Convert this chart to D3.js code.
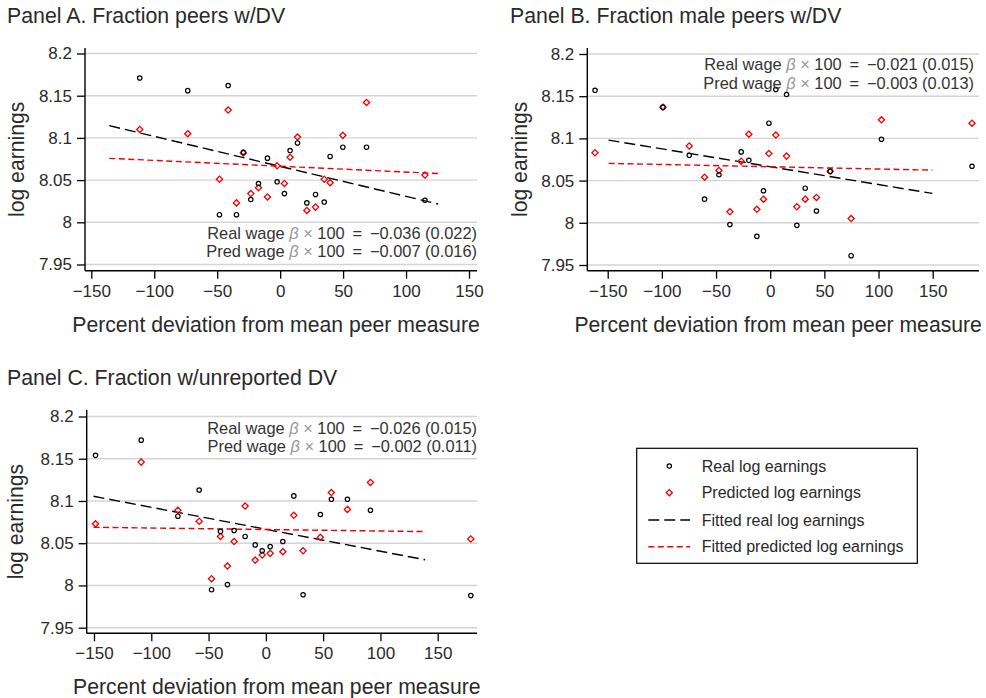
<!DOCTYPE html>
<html>
<head>
<meta charset="utf-8">
<script src="https://cdn.jsdelivr.net/npm/d3@7"></script>
<style>
  html, body { margin: 0; padding: 0; background: #fff; }
  svg { display: block; font-family: "Liberation Sans", Arial, Helvetica, sans-serif; }
</style>
</head>
<body>
<svg id="chart" width="986" height="698"></svg>
<script>
// ---------------- DATA ----------------
const xTicks = [-150, -100, -50, 0, 50, 100, 150];
const yTicks = [7.95, 8, 8.05, 8.1, 8.15, 8.2];

// Panel A. Fraction peers w/DV
const xA    = [-111.5, -73.4, -41.3, -29.2, -10.1, 7.9, 13.8, 39.7, 49.8, 68.6, -17.2, -2.4, 3.4, -23.3, -48.2, -34.7, 21.2, 28.1, 35, 115];
const realA = [8.171, 8.156, 8.162, 8.083, 8.076, 8.085, 8.094, 8.078, 8.089, 8.089, 8.046, 8.048, 8.034, 8.027, 8.009, 8.009, 8.023, 8.033, 8.024, 8.026];
const predA = [8.110, 8.105, 8.133, 8.082, 8.030, 8.077, 8.101, 8.047, 8.103, 8.142, 8.041, 8.067, 8.046, 8.034, 8.051, 8.023, 8.014, 8.018, 8.051, 8.056];
const fitRealXA = [-135.7, 125.4], fitRealA = [8.1145, 8.0217];
const fitPredXA = [-135.7, 128],   fitPredA = [8.0758, 8.0576];
const noteA = ["\u22120.036 (0.022)", "\u22120.007 (0.016)"];

// Panel B. Fraction male peers w/DV
const xB    = [-161.7, -99, -74.7, -47.3, -60.6, -26.8, -19.7, -1.2, 5.2, 15.1, -6.2, -37.2, -12.3, 24.6, 32.3, 42.7, 55.4, 74.7, 102.7, 186.3];
const realB = [8.157, 8.137, 8.080, 8.057, 8.028, 8.084, 8.074, 8.118, 8.158, 8.152, 8.038, 7.998, 7.984, 7.997, 8.041, 8.014, 8.061, 7.961, 8.099, 8.067];
const predB = [8.083, 8.137, 8.091, 8.062, 8.054, 8.073, 8.105, 8.082, 8.104, 8.079, 8.028, 8.013, 8.016, 8.019, 8.028, 8.030, 8.061, 8.005, 8.122, 8.118];
const fitRealXB = [-149.2, 149.7], fitRealB = [8.098, 8.0348];
const fitPredXB = [-149.2, 149.7], fitPredB = [8.0704, 8.0624];
const noteB = ["\u22120.021 (0.015)", "\u22120.003 (0.013)"];

// Panel C. Fraction w/unreported DV
const xC    = [-148.7, -108.8, -58.2, -76.8, -39.6, -27.7, -18.1, -9.3, -3.2, 3.8, 14.8, 24.4, 47.6, 57.2, 71.2, 91.3, -47.4, -33.5, 32.5, 178.9];
const realC = [8.154, 8.172, 8.113, 8.082, 8.064, 8.065, 8.058, 8.048, 8.041, 8.046, 8.052, 8.106, 8.084, 8.102, 8.102, 8.089, 7.995, 8.001, 7.989, 7.988];
const predC = [8.073, 8.146, 8.076, 8.089, 8.058, 8.052, 8.094, 8.030, 8.036, 8.038, 8.040, 8.083, 8.057, 8.110, 8.090, 8.122, 8.008, 8.023, 8.041, 8.055];
const fitRealXC = [-150.4, 139], fitRealC = [8.1056, 8.0304];
const fitPredXC = [-150.4, 137.5], fitPredC = [8.0689, 8.0638];
const noteC = ["\u22120.026 (0.015)", "\u22120.002 (0.011)"];

const titles = ["Panel A. Fraction peers w/DV", "Panel B. Fraction male peers w/DV", "Panel C. Fraction w/unreported DV"];
const xTitle = "Percent deviation from mean peer measure";
const yTitle = "log earnings";
const legendLabels = ["Real log earnings", "Predicted log earnings", "Fitted real log earnings", "Fitted predicted log earnings"];

// ---------------- LAYOUT ----------------
const panels = [
  { title: titles[0], x: xA, real: realA, pred: predA, frx: fitRealXA, fr: fitRealA, fpx: fitPredXA, fp: fitPredA, note: noteA,
    L: 85, R: 477, T: 48, B: 270.7, xr: [91.3, 469], yr: [264.5, 53.5], tx: 7, ty: 23, ytx: 24, noteR: 477, noteY: [239, 257] },
  { title: titles[1], x: xB, real: realB, pred: predB, frx: fitRealXB, fr: fitRealB, fpx: fitPredXB, fp: fitPredB, note: noteB,
    L: 587.3, R: 979, T: 48, B: 270.7, xr: [607.7, 932.7], yr: [265, 54], tx: 510, ty: 23, ytx: 527, noteR: 974, noteY: [70, 88.5] },
  { title: titles[2], x: xC, real: realC, pred: predC, frx: fitRealXC, fr: fitRealC, fpx: fitPredXC, fp: fitPredC, note: noteC,
    L: 86.7, R: 477, T: 410, B: 633.3, xr: [94, 437.7], yr: [627.7, 416.5], tx: 7, ty: 385, ytx: 23, noteR: 477, noteY: [433.5, 452] }
];

const RED = "#f00000";
const TXT = "#2a2a2a";
const svg = d3.select("#chart");

// square diamond marker (equal width/height)
const diamond = "M0,-3.1L3.1,0L0,3.1L-3.1,0Z";

panels.forEach(p => {
  const g = svg.append("g");
  const x = d3.scaleLinear().domain([-150, 150]).range(p.xr);
  const y = d3.scaleLinear().domain([7.95, 8.2]).range(p.yr);

  // title
  g.append("text").attr("x", p.tx).attr("y", p.ty).attr("fill", TXT)
    .attr("font-size", 21.3).text(p.title);

  // gridlines
  g.append("g").selectAll("line").data(yTicks).join("line")
    .attr("x1", p.L).attr("x2", p.R)
    .attr("y1", d => y(d)).attr("y2", d => y(d))
    .attr("stroke", "#d4d4d4").attr("stroke-width", 1.4);

  // y axis
  const ya = g.append("g").attr("transform", `translate(${p.L},0)`)
    .call(d3.axisLeft(y).tickValues(yTicks).tickSize(8).tickPadding(5)
      .tickFormat(d => String(+d.toFixed(2))));
  ya.select(".domain").remove();
  ya.selectAll(".tick line").attr("stroke", "#000").attr("stroke-width", 1.3);
  ya.selectAll(".tick text").attr("font-size", 17).attr("fill", TXT)
    .attr("font-family", "'Liberation Sans', Arial, sans-serif");

  // x axis
  const xa = g.append("g").attr("transform", `translate(0,${p.B})`)
    .call(d3.axisBottom(x).tickValues(xTicks).tickSize(8).tickPadding(6).tickFormat(d3.format("d")));
  xa.select(".domain").remove();
  xa.selectAll(".tick line").attr("stroke", "#000").attr("stroke-width", 1.3);
  xa.selectAll(".tick text").attr("font-size", 17).attr("fill", TXT)
    .attr("font-family", "'Liberation Sans', Arial, sans-serif");

  // axis lines
  g.append("line").attr("x1", p.L).attr("x2", p.L).attr("y1", p.T).attr("y2", p.B)
    .attr("stroke", "#000").attr("stroke-width", 1.4);
  g.append("line").attr("x1", p.L).attr("x2", p.R).attr("y1", p.B).attr("y2", p.B)
    .attr("stroke", "#000").attr("stroke-width", 1.4);

  // axis titles
  g.append("text").attr("x", (p.L + p.R) / 2 - 5).attr("y", p.B + 61)
    .attr("text-anchor", "middle").attr("font-size", 21.2).attr("fill", TXT).text(xTitle);
  g.append("text").attr("transform", `translate(${p.ytx},${(p.T + p.B) / 2}) rotate(-90)`)
    .attr("text-anchor", "middle").attr("font-size", 21.2).attr("fill", TXT).text(yTitle);

  // fitted lines
  const line = d3.line().x(d => x(d[0])).y(d => y(d[1]));
  g.append("path").datum(d3.zip(p.frx, p.fr)).attr("d", line)
    .attr("fill", "none").attr("stroke", "#000").attr("stroke-width", 1.4)
    .attr("stroke-dasharray", "11,5");
  g.append("path").datum(d3.zip(p.fpx, p.fp)).attr("d", line)
    .attr("fill", "none").attr("stroke", RED).attr("stroke-width", 1.4)
    .attr("stroke-dasharray", "6,3.5");

  // predicted diamonds
  g.append("g").selectAll("path").data(d3.zip(p.x, p.pred)).join("path")
    .attr("transform", d => `translate(${x(d[0])},${y(d[1])})`)
    .attr("d", diamond).attr("fill", "none").attr("stroke", RED).attr("stroke-width", 1.3);

  // real circles
  g.append("g").selectAll("circle").data(d3.zip(p.x, p.real)).join("circle")
    .attr("cx", d => x(d[0])).attr("cy", d => y(d[1])).attr("r", 2.2)
    .attr("fill", "none").attr("stroke", "#000").attr("stroke-width", 1.2);

  // annotation
  ["Real wage ", "Pred wage "].forEach((lab, i) => {
    const t = g.append("text").attr("x", p.noteR).attr("y", p.noteY[i])
      .attr("text-anchor", "end").attr("font-size", 16.4).attr("fill", "#333");
    t.append("tspan").text(lab);
    t.append("tspan").attr("fill", "#999").attr("font-style", "italic").text("\u03b2");
    t.append("tspan").attr("fill", "#999").text(" \u00d7 ");
    t.append("tspan").text("100 \u2009=\u2009 " + p.note[i]);
  });
});

// ---------------- LEGEND ----------------
const lg = svg.append("g");
lg.append("rect").attr("x", 636.7).attr("y", 448.3).attr("width", 280.6).attr("height", 115)
  .attr("fill", "#fff").attr("stroke", "#000").attr("stroke-width", 1.2);
const rows = [466, 492.7, 520, 546.7];
lg.append("circle").attr("cx", 669.3).attr("cy", rows[0]).attr("r", 2.2)
  .attr("fill", "none").attr("stroke", "#000").attr("stroke-width", 1.2);
lg.append("path").attr("transform", `translate(669.3,${rows[1]})`).attr("d", diamond)
  .attr("fill", "none").attr("stroke", RED).attr("stroke-width", 1.3);
lg.append("line").attr("x1", 648.3).attr("x2", 690).attr("y1", rows[2]).attr("y2", rows[2])
  .attr("stroke", "#000").attr("stroke-width", 1.4).attr("stroke-dasharray", "11,5");
lg.append("line").attr("x1", 648.3).attr("x2", 690).attr("y1", rows[3]).attr("y2", rows[3])
  .attr("stroke", RED).attr("stroke-width", 1.4).attr("stroke-dasharray", "6,3.5");
lg.selectAll("text.lab").data(legendLabels).join("text").attr("class", "lab")
  .attr("x", 701.7).attr("y", (d, i) => rows[i]).attr("dy", "0.36em")
  .attr("font-size", 16).attr("fill", TXT).text(d => d);
</script>
</body>
</html>
